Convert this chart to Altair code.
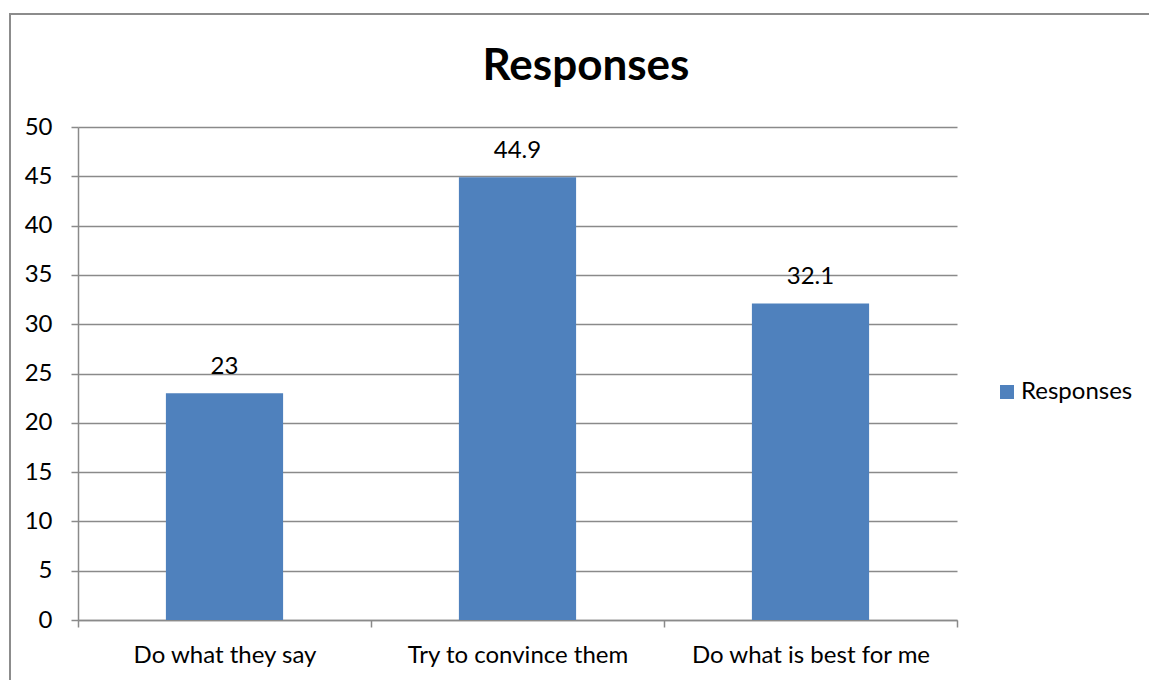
import altair as alt
import pandas as pd

categories = ["Do what they say", "Try to convince them", "Do what is best for me"]
values = [23, 44.9, 32.1]
series_name = "Responses"

df = pd.DataFrame({"category": categories, "value": values, "series": series_name})

FONT = "Lato"
GRID = "#8a8a8a"
BLUE = "#4f81bd"
FS = 24

x_enc = alt.X(
    "category:N",
    sort=categories,
    scale=alt.Scale(paddingInner=0, paddingOuter=0),
    axis=alt.Axis(
        title=None, labelAngle=0, labelFontSize=FS, labelFont=FONT, labelColor="#000",
        labelPadding=16, labelLimit=0, tickBand="extent", tickSize=7, tickColor=GRID,
        domainColor=GRID, domainWidth=1.5, tickWidth=1.5, grid=False,
    ),
)
y_enc = alt.Y(
    "value:Q",
    scale=alt.Scale(domain=[0, 50], nice=False),
    axis=alt.Axis(
        title=None, values=list(range(0, 55, 5)), labelFontSize=FS, labelFont=FONT,
        labelColor="#000", labelPadding=19, tickSize=7, tickColor=GRID, domainColor=GRID,
        domainWidth=1.5, tickWidth=1.5, gridColor=GRID, gridWidth=1.5,
    ),
)

bars = alt.Chart(df).mark_bar(width=alt.RelativeBandSize(0.4), color=BLUE).encode(
    x=x_enc,
    y=y_enc,
    color=alt.Color(
        "series:N",
        scale=alt.Scale(range=[BLUE]),
        legend=alt.Legend(
            title=None, orient="none", legendX=917, legendY=253, symbolType="square",
            symbolSize=196, symbolStrokeWidth=0, labelFontSize=FS, labelFont=FONT,
            labelColor="#000", symbolOffset=0, labelOffset=2, labelLimit=0,
        ),
    ),
)

labels = alt.Chart(df).mark_text(
    dy=-26, fontSize=FS, font=FONT, color="#000", baseline="middle"
).encode(x=alt.X("category:N", sort=categories), y="value:Q", text="value:Q")

# chart heading, centred over the whole frame
heading = alt.Chart(pd.DataFrame({"t": [series_name]})).mark_text(
    fontSize=44, font=FONT, fontWeight="bold", color="#000", baseline="middle", align="center"
).encode(x=alt.value(508), y=alt.value(-60), text="t:N")

# outer chart frame
frame = alt.Chart(df).mark_rect(fill=None, stroke="#8c8c8c", strokeWidth=2).encode(
    x=alt.value(-68), x2=alt.value(1100), y=alt.value(-113), y2=alt.value(600)
)

chart = alt.layer(frame, bars, labels, heading).properties(
    width=879,
    height=493,
    padding={"left": 78, "top": 127, "right": 192, "bottom": 60},
    autosize=alt.AutoSizeParams(type="none"),
).configure_view(stroke=None)

chart.save("out.html", embed_options={"renderer": "svg", "actions": False})
